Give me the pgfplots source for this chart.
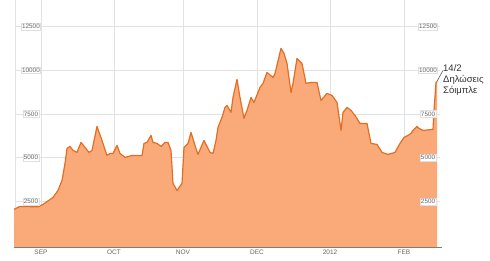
\documentclass[border=0pt]{standalone}
\usepackage{fontspec}
\setmainfont{Liberation Sans}
\usepackage{pgfplots}
\pgfplotsset{compat=1.18}
\definecolor{fillc}{RGB}{250,170,120}
\definecolor{linec}{RGB}{226,110,36}
\definecolor{gridc}{RGB}{226,226,226}
\definecolor{labc}{RGB}{100,100,100}
\definecolor{basec}{RGB}{125,125,125}
\begin{document}
\begin{tikzpicture}
\begin{axis}[
  scale only axis, width=490pt, height=260pt,
  xmin=0, xmax=490, ymin=-871, ymax=13986,
  axis line style={draw=none}, tick style={draw=none},
  xtick={41,114,183,257,330,404},
  xticklabels={SEP,OCT,NOV,DEC,2012,FEB},
  xticklabel style={anchor=center, yshift=8pt, font=\fontsize{6.5}{7}\selectfont, text=labc},
  ytick=\empty,
  clip=false,
]
% grid
\pgfplotsinvokeforeach{2500,5000,7500,10000,12500}{
  \draw[gridc, line width=0.8pt] (axis cs:15,#1) -- (axis cs:440,#1);
}
\pgfplotsinvokeforeach{15,41,114,183,257,330,404}{
  \draw[gridc, line width=0.8pt] (axis cs:#1,13986) -- (axis cs:#1,-129);
}
\addplot[fill=fillc, draw=none] coordinates {
(14,-129)
(14,2043) (20,2214) (38,2190) (43,2328) (53,2728) (58,3128) (62,3700) (65,4671)
(67,5528) (70,5642) (73,5414) (77,5300) (81,5871) (85,5585) (89,5300) (92,5414)
(97,6786) (102,5985) (107,5128) (110,5242) (113,5242) (117,5700) (120,5242) (125,5014)
(132,5128) (142,5128) (144,5814) (147,5871) (151,6271) (153,5871) (157,5814) (161,5642)
(165,5871) (168,5871) (171,5414) (173,3528) (177,3128) (182,3528) (184,5585) (188,5814)
(191,6442) (195,5700) (198,5185) (204,5985) (210,5300) (213,5242) (216,5985) (218,6728)
(222,7300) (225,7871) (227,7985) (231,7585) (233,8442) (237,9471) (240,8442) (244,7242)
(247,7700) (251,8442) (254,8157) (260,9014) (263,9243) (267,9871) (273,9585) (275,9814)
(281,11242) (284,10957) (287,10385) (291,8728) (293,9243) (297,10671) (302,10385) (306,9243)
(311,9300) (317,9300) (321,8271) (327,8671) (332,8557) (337,8157) (341,6557) (343,7585)
(347,7871) (351,7700) (355,7414) (360,6957) (367,6957) (371,5814) (377,5757) (382,5300)
(388,5185) (395,5300) (400,5814) (404,6157) (408,6271) (411,6385) (413,6557) (417,6786)
(419,6671) (423,6557) (433,6614) (434,7700) (436,9300) (437,9357)
(437,-129)
} -- cycle;
\addplot[linec, line width=1.2pt, line join=round] coordinates {
(14,2043) (20,2214) (38,2190) (43,2328) (53,2728) (58,3128) (62,3700) (65,4671)
(67,5528) (70,5642) (73,5414) (77,5300) (81,5871) (85,5585) (89,5300) (92,5414)
(97,6786) (102,5985) (107,5128) (110,5242) (113,5242) (117,5700) (120,5242) (125,5014)
(132,5128) (142,5128) (144,5814) (147,5871) (151,6271) (153,5871) (157,5814) (161,5642)
(165,5871) (168,5871) (171,5414) (173,3528) (177,3128) (182,3528) (184,5585) (188,5814)
(191,6442) (195,5700) (198,5185) (204,5985) (210,5300) (213,5242) (216,5985) (218,6728)
(222,7300) (225,7871) (227,7985) (231,7585) (233,8442) (237,9471) (240,8442) (244,7242)
(247,7700) (251,8442) (254,8157) (260,9014) (263,9243) (267,9871) (273,9585) (275,9814)
(281,11242) (284,10957) (287,10385) (291,8728) (293,9243) (297,10671) (302,10385) (306,9243)
(311,9300) (317,9300) (321,8271) (327,8671) (332,8557) (337,8157) (341,6557) (343,7585)
(347,7871) (351,7700) (355,7414) (360,6957) (367,6957) (371,5814) (377,5757) (382,5300)
(388,5185) (395,5300) (400,5814) (404,6157) (408,6271) (411,6385) (413,6557) (417,6786)
(419,6671) (423,6557) (433,6614) (434,7700) (436,9300) (437,9357)
};
% baseline
\draw[basec, line width=1.3pt] (axis cs:14,-129) -- (axis cs:442,-129);
% y labels
\pgfplotsinvokeforeach{2500,5000,7500,10000,12500}{
  \node[fill=white, draw=gray!25, inner xsep=0.8pt, inner ysep=1.2pt, text=labc,
        font=\fontsize{6.3}{7}\selectfont] at (axis cs:31,#1) {#1};
  \node[fill=white, draw=gray!25, inner xsep=0.8pt, inner ysep=1.2pt, text=labc,
        font=\fontsize{6.3}{7}\selectfont] at (axis cs:428,#1) {#1};
}
% annotation
\draw[gray!70!black, line width=0.6pt] (axis cs:437,9357) -- (axis cs:443,9986);
\node[anchor=north west, inner sep=0pt, align=left, text={rgb,255:red,50;green,50;blue,50},
      font=\fontsize{9.5}{11}\selectfont] at (axis cs:443,10330) {14/2\\Δηλώσεις\\Σόιμπλε};
\end{axis}
\end{tikzpicture}
\end{document}
